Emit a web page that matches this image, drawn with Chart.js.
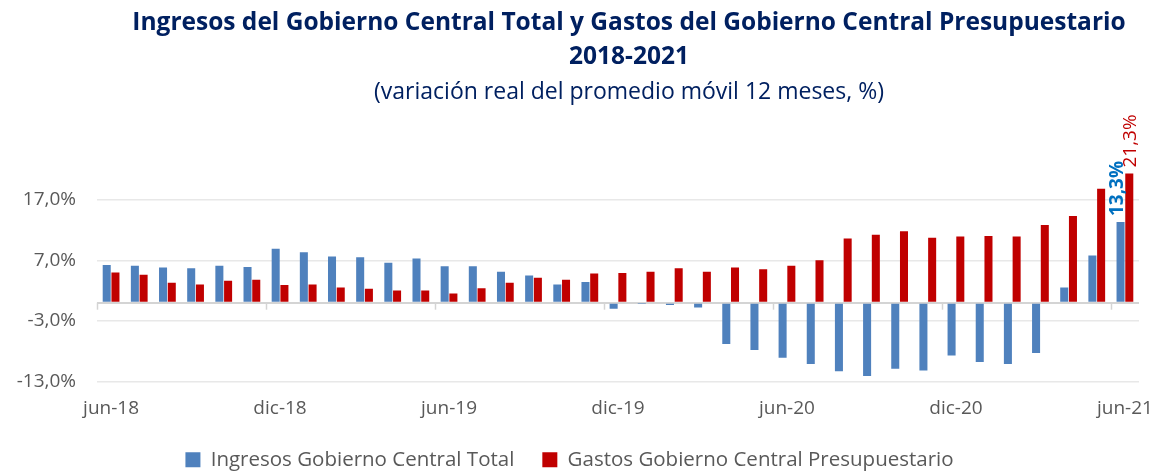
<!DOCTYPE html>
<html lang="es">
<head>
<meta charset="utf-8">
<title>Ingresos y Gastos del Gobierno Central 2018-2021</title>
<script src="https://cdn.jsdelivr.net/npm/chart.js@4.4.1/dist/chart.umd.min.js"></script>
<style>
  html, body { margin: 0; padding: 0; background: #fff; }
  #wrap { width: 1161px; height: 473px; position: relative; }
</style>
</head>
<body>
<div id="wrap"><canvas id="grafico"></canvas></div>
<script>
var meses = ['jun-18','jul-18','ago-18','sep-18','oct-18','nov-18',
             'dic-18','ene-19','feb-19','mar-19','abr-19','may-19',
             'jun-19','jul-19','ago-19','sep-19','oct-19','nov-19',
             'dic-19','ene-20','feb-20','mar-20','abr-20','may-20',
             'jun-20','jul-20','ago-20','sep-20','oct-20','nov-20',
             'dic-20','ene-21','feb-21','mar-21','abr-21','may-21',
             'jun-21'];

var ingresos = [6.2, 6.1, 5.8, 5.7, 6.1, 5.9,
                8.9, 8.3, 7.6, 7.5, 6.6, 7.3,
                6.0, 6.0, 5.1, 4.5, 3.0, 3.4,
                -1.0, -0.1, -0.4, -0.8, -6.8, -7.8,
                -9.1, -10.1, -11.3, -12.1, -10.9, -11.2,
                -8.7, -9.8, -10.1, -8.3, 2.5, 7.8,
                13.3];

var gastos = [5.0, 4.6, 3.3, 3.0, 3.6, 3.8,
              2.9, 3.0, 2.5, 2.3, 2.0, 2.0,
              1.5, 2.4, 3.3, 4.1, 3.8, 4.8,
              4.9, 5.1, 5.7, 5.1, 5.8, 5.5,
              6.1, 7.0, 10.6, 11.2, 11.8, 10.7,
              10.9, 11.0, 10.9, 12.8, 14.3, 18.8,
              21.3];

var ticksEjeY = [-13, -3, 0, 7, 17, 27];
var ticksVisibles = [-13, -3, 7, 17];

var titulo = ['Ingresos del Gobierno Central Total y Gastos del Gobierno Central Presupuestario', '2018-2021'];
var subtitulo = '(variación real del promedio móvil 12 meses, %)';

var nombres = ['Ingresos Gobierno Central Total', 'Gastos Gobierno Central Presupuestario'];

var AZUL = '#4F81BD';
var ROJO = '#C00000';
var GRIS = '#595959';
var NAVY = '#002060';
var FUENTE = "'Open Sans', sans-serif";

function formatoPct(v) {
  return v.toFixed(1).replace('.', ',') + '%';
}

// titulo y subtitulo centrados sobre el grafico
var pluginTitulos = {
  id: 'titulos',
  afterDraw: function(chart) {
    var ctx = chart.ctx;
    var cx = 629;
    ctx.save();
    ctx.fillStyle = NAVY;
    ctx.textAlign = 'center';
    ctx.textBaseline = 'middle';
    ctx.font = 'bold 24.5px ' + FUENTE;
    ctx.fillText(titulo[0], cx, 23);
    ctx.fillText(titulo[1], cx, 57);
    ctx.font = '23px ' + FUENTE;
    ctx.fillText(subtitulo, cx, 92);
    ctx.restore();
  }
};

// marcas sobre la linea del cero cada 6 meses
var pluginMarcas = {
  id: 'marcas',
  beforeDatasetsDraw: function(chart) {
    var x = chart.scales.x;
    var y0 = chart.scales.y.getPixelForValue(0);
    var ancho = (chart.chartArea.right - chart.chartArea.left) / meses.length;
    var ctx = chart.ctx;
    ctx.save();
    ctx.strokeStyle = '#D4D4D4';
    ctx.lineWidth = 1.5;
    for (var i = 0; i < meses.length; i += 6) {
      var px = Math.round(x.getPixelForValue(i) - ancho / 2) + 0.5;
      ctx.beginPath();
      ctx.moveTo(px, y0);
      ctx.lineTo(px, y0 + 7);
      ctx.stroke();
    }
    ctx.restore();
  }
};

// etiqueta vertical del ultimo dato de cada serie
var pluginEtiquetas = {
  id: 'etiquetas',
  afterDatasetsDraw: function(chart) {
    var ctx = chart.ctx;
    var estilos = [
      { color: '#0070C0', font: 'bold 19px ' + FUENTE, dx: -3 },
      { color: ROJO, font: '19px ' + FUENTE, dx: 1 }
    ];
    for (var d = 0; d < chart.data.datasets.length; d++) {
      var meta = chart.getDatasetMeta(d);
      var ult = meta.data.length - 1;
      var barra = meta.data[ult];
      var valor = chart.data.datasets[d].data[ult];
      ctx.save();
      ctx.translate(barra.x + estilos[d].dx, barra.y - 6);
      ctx.rotate(-Math.PI / 2);
      ctx.fillStyle = estilos[d].color;
      ctx.font = estilos[d].font;
      ctx.textAlign = 'left';
      ctx.textBaseline = 'middle';
      ctx.fillText(formatoPct(valor), 0, 0);
      ctx.restore();
    }
  }
};

function crearGrafico() {
  var ctx = document.getElementById('grafico').getContext('2d');
  var chart = new Chart(ctx, {
    type: 'bar',
    data: {
      labels: meses,
      datasets: [{
        label: nombres[0],
        data: ingresos,
        backgroundColor: AZUL,
        borderWidth: 0,
        categoryPercentage: 0.62,
        barPercentage: 0.92
      }, {
        label: nombres[1],
        data: gastos,
        backgroundColor: ROJO,
        borderWidth: 0,
        categoryPercentage: 0.62,
        barPercentage: 0.92
      }]
    },
    options: {
      responsive: true,
      maintainAspectRatio: false,
      devicePixelRatio: 1,
      animation: false,
      layout: {
        padding: { top: 139, right: 22, bottom: -7, left: 0 }
      },
      plugins: {
        title: { display: false },
        tooltip: { enabled: false },
        legend: {
          position: 'bottom',
          labels: {
            color: GRIS,
            font: { family: FUENTE, size: 20.5 },
            boxWidth: 15,
            boxHeight: 15,
            padding: 28
          }
        }
      },
      scales: {
        x: {
          grid: { display: false, drawTicks: false, tickLength: 0 },
          border: { display: false },
          ticks: {
            color: GRIS,
            font: { family: FUENTE, size: 19 },
            autoSkip: false,
            maxRotation: 0,
            minRotation: 0,
            padding: 16,
            callback: function(value, index) {
              return index % 6 === 0 ? meses[index] : '';
            }
          },
          afterFit: function(scale) {
            scale.height = 40;
            scale.paddingLeft = 0;
            scale.paddingRight = 0;
          }
        },
        y: {
          min: -13,
          max: 27,
          border: { display: false },
          grid: {
            drawTicks: false,
            color: function(c) {
              if (c.tick.value === 0) return '#D4D4D4';
              if (ticksVisibles.indexOf(c.tick.value) < 0) return 'rgba(0,0,0,0)';
              return '#E8E8E8';
            },
            lineWidth: function(c) {
              return c.tick.value === 0 ? 2 : 1.5;
            }
          },
          ticks: {
            color: GRIS,
            font: { family: FUENTE, size: 19 },
            padding: 21,
            callback: function(value) {
              return ticksVisibles.indexOf(value) >= 0 ? formatoPct(value) : '';
            }
          },
          afterBuildTicks: function(scale) {
            scale.ticks = ticksEjeY.map(function(v) { return { value: v }; });
          },
          afterFit: function(scale) {
            scale.width = 97;
          }
        }
      }
    },
    plugins: [pluginTitulos, pluginMarcas, pluginEtiquetas]
  });
  return chart;
}

crearGrafico();
</script>
</body>
</html>
